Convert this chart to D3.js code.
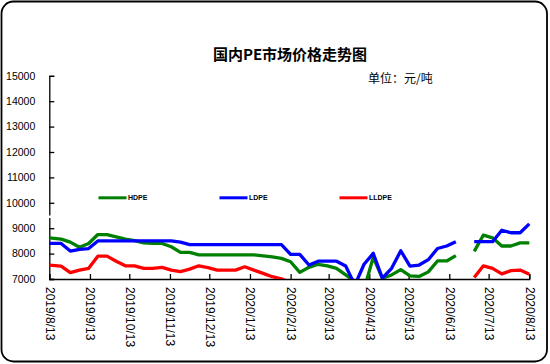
<!DOCTYPE html>
<html>
<head>
<meta charset="utf-8">
<script src="https://cdn.jsdelivr.net/npm/d3@7"></script>
<style>
  html, body { margin: 0; padding: 0; background: #fff; }
  svg { display: block; }
</style>
</head>
<body>
<svg id="chart" width="550" height="364"></svg>
<script>
// ---- data ----
const dates = ["2019-08-13","2019-08-22","2019-08-29","2019-09-05","2019-09-12","2019-09-19","2019-09-26","2019-10-03","2019-10-10","2019-10-17","2019-10-24","2019-10-31","2019-11-07","2019-11-14","2019-11-21","2019-11-28","2019-12-05","2019-12-12","2019-12-19","2019-12-26","2020-01-02","2020-01-09","2020-01-16","2020-01-23","2020-01-30","2020-02-06","2020-02-13","2020-02-20","2020-02-27","2020-03-05","2020-03-12","2020-03-19","2020-03-26","2020-04-02","2020-04-09","2020-04-16","2020-04-23","2020-04-30","2020-05-07","2020-05-14","2020-05-21","2020-05-28","2020-06-04","2020-06-11","2020-06-18","2020-06-25","2020-07-02","2020-07-09","2020-07-16","2020-07-23","2020-07-30","2020-08-06","2020-08-13"];
const hdpe = [8620,8570,8450,8250,8400,8750,8750,8660,8570,8510,8420,8400,8400,8270,8050,8050,7950,7950,7950,7950,7950,7950,7950,7910,7870,7810,7680,7260,7460,7580,7520,7420,7160,6900,6600,7850,7030,7160,7370,7120,7100,7280,7710,7710,7920,null,8090,8730,8620,8300,8300,8420,8420];
const ldpe = [8400,8400,8100,8170,8200,8500,8500,8500,8500,8500,8500,8500,8500,8500,8450,8350,8350,8350,8350,8350,8350,8350,8350,8350,8350,8350,7970,7970,7550,7700,7700,7700,7510,6760,7580,8010,7030,7420,8110,7510,7550,7760,8200,8300,8470,null,8470,8470,8470,8920,8820,8820,9170];
const lldpe = [7550,7510,7250,7350,7420,7900,7900,7700,7520,7520,7420,7420,7460,7350,7290,7390,7520,7450,7350,7350,7350,7480,7350,7220,7090,7010,6850,6700,6600,6500,6400,6300,6300,6200,6300,6400,6500,6500,6600,6600,6700,6800,6800,6900,6900,null,7060,7520,7420,7200,7330,7350,7190];
const seriesNames = ["HDPE","LDPE","LLDPE"];
const seriesColors = ["#008000","#0000ff","#ff0000"];
const yTicks = [7000,8000,9000,10000,11000,12000,13000,14000,15000];
const xTickDates = ["2019-08-13","2019-09-13","2019-10-13","2019-11-13","2019-12-13","2020-01-13","2020-02-13","2020-03-13","2020-04-13","2020-05-13","2020-06-13","2020-07-13","2020-08-13"];
const titleText = "国内PE市场价格走势图";
const unitText = "单位：元/吨";

// ---- setup ----
const svg = d3.select("#chart");
const parse = d3.timeParse("%Y-%m-%d");
const L = 49.3, R = 529.3, T = 75.8, B = 279;

const x = d3.scaleTime().domain([parse("2019-08-13"), parse("2020-08-13")]).range([L, R]);
const y = d3.scaleLinear().domain([7000, 15000]).range([B, T]);

// outer frame
svg.append("rect")
  .attr("x", 1.5).attr("y", 1.5).attr("width", 545.5).attr("height", 360)
  .attr("rx", 12).attr("ry", 12)
  .attr("fill", "#fff").attr("stroke", "#000").attr("stroke-width", 1.8);

// title
svg.append("text")
  .attr("x", 290).attr("y", 60)
  .attr("text-anchor", "middle")
  .attr("font-family", "'Noto Sans CJK SC', sans-serif")
  .attr("font-weight", "bold")
  .attr("font-size", 15)
  .attr("fill", "#000")
  .text(titleText);

svg.append("text")
  .attr("x", 368).attr("y", 82.5)
  .attr("font-family", "'Noto Sans CJK SC', sans-serif")
  .attr("font-size", 12)
  .attr("fill", "#000")
  .text(unitText);

// y axis
const yAxis = d3.axisLeft(y).tickValues(yTicks).tickSize(-5).tickPadding(14)
  .tickFormat(d3.format("d"));
const gy = svg.append("g").attr("transform", `translate(${L},0)`).call(yAxis);
gy.select(".domain").attr("stroke", "#000").attr("stroke-width", 1.3);
gy.selectAll(".tick line").attr("stroke", "#000").attr("stroke-width", 1.3);
gy.selectAll(".tick text")
  .attr("font-family", "'Liberation Sans', Arial, sans-serif")
  .attr("font-size", 10.5).attr("fill", "#000");
// axis break gap
svg.append("rect").attr("x", L - 2).attr("y", 215.5).attr("width", 4).attr("height", 2.5).attr("fill", "#fff");

// x axis
const xAxis = d3.axisBottom(x).tickValues(xTickDates.map(parse)).tickSize(-5)
  .tickFormat(d => `${d.getFullYear()}/${d.getMonth() + 1}/${d.getDate()}`);
const gx = svg.append("g").attr("transform", `translate(0,${B})`).call(xAxis);
gx.select(".domain").attr("stroke", "#000").attr("stroke-width", 1.3);
gx.selectAll(".tick line").attr("stroke", "#000").attr("stroke-width", 1.3);
gx.selectAll(".tick text")
  .attr("font-family", "'Liberation Sans', Arial, sans-serif")
  .attr("font-size", 12).attr("fill", "#000")
  .attr("text-anchor", "start")
  .attr("transform", "translate(0,8) rotate(90)")
  .attr("x", 0).attr("y", 0).attr("dy", "0.35em");

// clip
svg.append("defs").append("clipPath").attr("id", "plotclip")
  .append("rect").attr("x", L).attr("y", T - 5).attr("width", R - L + 3).attr("height", B - T + 5);

const seriesData = [hdpe, ldpe, lldpe];
const line = d3.line()
  .defined(d => d.v !== null)
  .x(d => x(d.date))
  .y(d => y(d.v));

const gLines = svg.append("g").attr("clip-path", "url(#plotclip)");
seriesData.forEach((vals, i) => {
  const pts = dates.map((ds, k) => ({ date: parse(ds), v: vals[k] }));
  gLines.append("path")
    .datum(pts)
    .attr("fill", "none")
    .attr("stroke", seriesColors[i])
    .attr("stroke-width", 3.3)
    .attr("stroke-linejoin", "round")
    .attr("d", line);
});

// legend
const legendX = [98.5, 219.5, 339.5];
const legendY = 197.8;
seriesNames.forEach((name, i) => {
  svg.append("line")
    .attr("x1", legendX[i]).attr("x2", legendX[i] + 28)
    .attr("y1", legendY).attr("y2", legendY)
    .attr("stroke", seriesColors[i]).attr("stroke-width", 3);
  svg.append("text")
    .attr("x", legendX[i] + 29.5).attr("y", legendY + 2.5)
    .attr("font-family", "'Liberation Sans', Arial, sans-serif")
    .attr("font-weight", "bold")
    .attr("font-size", 7)
    .attr("fill", "#000")
    .text(name);
});
</script>
</body>
</html>
